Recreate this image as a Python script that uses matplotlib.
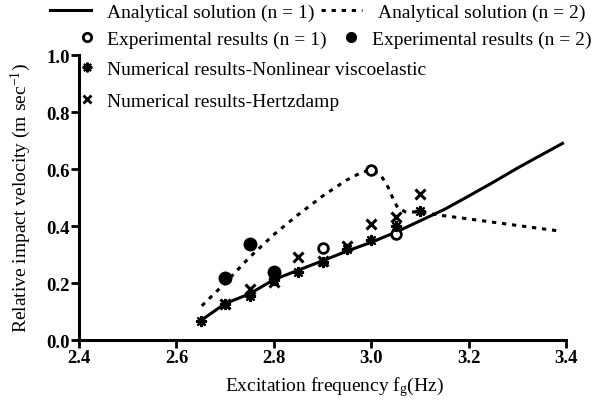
import numpy as np
import matplotlib
matplotlib.use("Agg")
import matplotlib.pyplot as plt
from matplotlib.lines import Line2D

plt.rcParams["font.family"] = ["Liberation Serif", "DejaVu Serif"]
plt.rcParams["mathtext.fontset"] = "custom"
plt.rcParams["mathtext.rm"] = "Liberation Serif"
plt.rcParams["mathtext.it"] = "Liberation Serif"

# analytical solution n = 1 (solid)
f_n1 = [2.648, 2.70, 2.75, 2.80, 2.85, 2.90, 2.95, 3.00, 3.05, 3.10, 3.15, 3.20, 3.25, 3.30, 3.35, 3.393]
v_n1 = [0.066, 0.128, 0.162, 0.212, 0.245, 0.278, 0.312, 0.343, 0.378, 0.418, 0.458, 0.505, 0.553, 0.603, 0.650, 0.690]

# analytical solution n = 2 (dashed)
f_n2 = [2.652, 2.70, 2.75, 2.80, 2.85, 2.90, 2.95, 2.98, 3.00, 3.02, 3.035, 3.045, 3.055, 3.07, 3.10, 3.15, 3.20, 3.30, 3.38]
v_n2 = [0.120, 0.200, 0.290, 0.370, 0.440, 0.505, 0.562, 0.588, 0.597, 0.578, 0.535, 0.495, 0.462, 0.450, 0.449, 0.436, 0.425, 0.402, 0.384]

# experimental results
f_exp1 = [2.90, 3.00, 3.05]
v_exp1 = [0.322, 0.597, 0.372]
f_exp2 = [2.70, 2.75, 2.80]
v_exp2 = [0.216, 0.337, 0.240]

# numerical results
f_nlv = [2.65, 2.70, 2.75, 2.80, 2.85, 2.90, 2.95, 3.00, 3.05, 3.10]
v_nlv = [0.066, 0.125, 0.155, 0.210, 0.237, 0.275, 0.320, 0.352, 0.400, 0.454]
f_hd = [2.70, 2.75, 2.80, 2.85, 2.90, 2.95, 3.00, 3.05, 3.10]
v_hd = [0.125, 0.179, 0.205, 0.290, 0.278, 0.331, 0.407, 0.430, 0.512]

DASH = (1.4, 1.9)

fig = plt.figure(figsize=(6.04, 4.06), dpi=100)
ax = fig.add_axes([0.131, 0.160, 0.806, 0.702])

ax.plot(f_n1, v_n1, color="black", lw=2.2)
ax.plot(f_n2, v_n2, color="black", lw=2.2, dashes=DASH)
ax.plot(f_exp1, v_exp1, "o", ms=7, mfc="white", mec="black", mew=2.0, ls="none")
ax.plot(f_exp2, v_exp2, "o", ms=9, color="black", ls="none")
ax.plot(f_nlv, v_nlv, marker=(8, 2, 0), ms=8, color="black", mew=1.6, ls="none")
ax.plot(f_hd, v_hd, "x", ms=7.5, color="black", mew=2.2, ls="none")

ax.set_xlim(2.4, 3.4)
ax.set_ylim(0.0, 1.0)
ax.set_xticks(np.arange(2.4, 3.41, 0.2))
ax.set_yticks(np.arange(0.0, 1.01, 0.2))
ax.xaxis.set_major_formatter(matplotlib.ticker.FormatStrFormatter("%.1f"))
ax.yaxis.set_major_formatter(matplotlib.ticker.FormatStrFormatter("%.1f"))
for s in ["top", "right"]:
    ax.spines[s].set_visible(False)
for s in ["left", "bottom"]:
    ax.spines[s].set_linewidth(2.2)
ax.tick_params(direction="out", length=6, width=2.0, labelsize=13.5, pad=0.5)
for lab in ax.get_xticklabels() + ax.get_yticklabels():
    lab.set_fontweight("bold")
ax.set_xlabel(r"Excitation frequency f$_\mathregular{g}$(Hz)", fontsize=14, labelpad=5)
ax.xaxis.set_label_coords(0.525, -0.12)
ax.set_ylabel(r"Relative impact velocity (m sec$^{\mathregular{-1}}$)", fontsize=14, labelpad=10)

# legend rows
h_n1 = Line2D([], [], color="black", lw=2.2)
h_n2 = Line2D([], [], color="black", lw=2.2, dashes=DASH)
h_e1 = Line2D([], [], marker="o", ms=6, mfc="white", mec="black", mew=2.0, ls="none")
h_e2 = Line2D([], [], marker="o", ms=7, color="black", ls="none")
h_nl = Line2D([], [], marker=(8, 2, 0), ms=7, color="black", mew=1.5, ls="none")
h_hd = Line2D([], [], marker="x", ms=6, color="black", mew=2.0, ls="none")

kw = dict(frameon=False, fontsize=14, borderpad=0, borderaxespad=0, loc="upper left")
leg1 = fig.legend([h_n1, h_n2], ["Analytical solution (n = 1)", "Analytical solution (n = 2)"],
                  ncol=2, handlelength=2.1, handletextpad=0.85, columnspacing=0.3,
                  bbox_to_anchor=(0.083, 0.99), **kw)
leg2 = fig.legend([h_e1, h_e2], ["Experimental results (n = 1)", "Experimental results (n = 2)"],
                  ncol=2, handlelength=0.7, handletextpad=0.72, columnspacing=0.9,
                  bbox_to_anchor=(0.132, 0.922), **kw)
leg3 = fig.legend([h_nl, h_hd], ["Numerical results-Nonlinear viscoelastic", "Numerical results-Hertzdamp"],
                  ncol=1, handlelength=0.7, handletextpad=0.72, labelspacing=0.75,
                  bbox_to_anchor=(0.132, 0.85), **kw)

fig.savefig("out.png", dpi=100)
